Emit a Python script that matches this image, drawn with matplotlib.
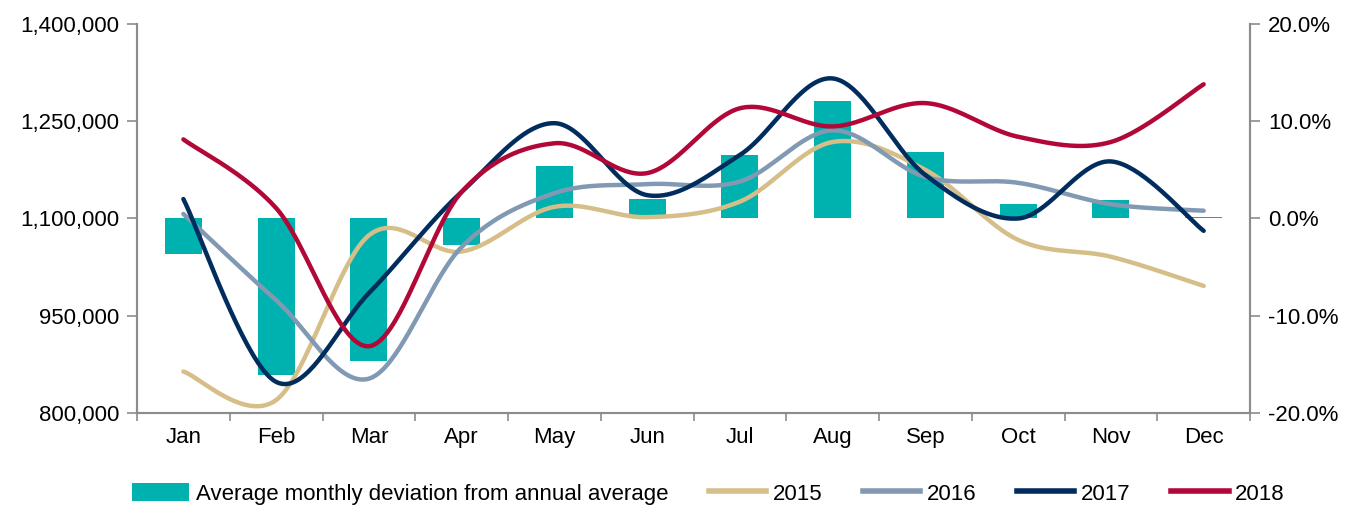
"""Monthly volumes 2015-2018 with average monthly deviation bars."""
import numpy as np
import matplotlib
matplotlib.use("Agg")
from matplotlib import pyplot as plt
from matplotlib.patches import Patch
from matplotlib.lines import Line2D
from matplotlib.ticker import FuncFormatter

months = ["Jan", "Feb", "Mar", "Apr", "May", "Jun",
          "Jul", "Aug", "Sep", "Oct", "Nov", "Dec"]

# average monthly deviation from annual average (right axis, %)
deviation = [-3.7, -16.1, -14.7, -2.7, 5.4, 2.0, 6.5, 12.1, 6.8, 1.5, 1.9, 0.2]

y2015 = [864000, 820000, 1074000, 1049000, 1118000, 1102000,
         1126000, 1218000, 1175000, 1067000, 1041000, 996000]
y2016 = [1107000, 974000, 853000, 1056000, 1139000, 1153000,
         1157000, 1236000, 1164000, 1155000, 1122000, 1112000]
y2017 = [1130000, 848000, 985000, 1141000, 1247000, 1136000,
         1198000, 1316000, 1167000, 1100000, 1188000, 1081000]
y2018 = [1222000, 1116000, 903000, 1141000, 1216000, 1170000,
         1270000, 1242000, 1278000, 1226000, 1218000, 1307000]

series = [("2015", y2015, "#D6BE88"),
          ("2016", y2016, "#8199B3"),
          ("2017", y2017, "#012D5E"),
          ("2018", y2018, "#B20838")]

TEAL = "#00B2AF"
AXIS = "#8C8C8C"

plt.rcParams["font.family"] = ["Liberation Sans Narrow", "Liberation Sans", "DejaVu Sans"]
plt.rcParams["font.size"] = 16


def smooth(x, y, n=40):
    """Excel-like smoothed line: Catmull-Rom segments as cubic Beziers."""
    p = np.column_stack([x, y]).astype(float)
    pts = [p[0]]
    for i in range(len(p) - 1):
        p0 = p[i - 1] if i > 0 else p[i]
        p1, p2 = p[i], p[i + 1]
        p3 = p[i + 2] if i + 2 < len(p) else p[i + 1]
        c1 = p1 + (p2 - p0) / 6.0
        c2 = p2 - (p3 - p1) / 6.0
        t = np.linspace(0, 1, n)[1:, None]
        seg = ((1 - t) ** 3 * p1 + 3 * (1 - t) ** 2 * t * c1
               + 3 * (1 - t) * t ** 2 * c2 + t ** 3 * p2)
        pts.extend(seg)
    pts = np.array(pts)
    return pts[:, 0], pts[:, 1]


fig = plt.figure(figsize=(13.62, 5.08), dpi=100)
ax = fig.add_axes((0.1006, 0.187, 0.8172, 0.7658))
ax2 = ax.twinx()

x = np.arange(len(months))

# bars on the right axis, behind the lines
ax2.bar(x, deviation, width=0.4, color=TEAL, zorder=1)
ax2.set_ylim(-20, 20)
ax2.set_yticks([-20, -10, 0, 10, 20])
ax2.yaxis.set_major_formatter(FuncFormatter(lambda v, _: f"{v:.1f}%"))

ax.set_zorder(ax2.get_zorder() + 1)
ax.patch.set_visible(False)
for name, vals, col in series:
    sx, sy = smooth(x, vals)
    ax.plot(sx, sy, color=col, lw=3.2, solid_capstyle="round")

ax.set_ylim(800000, 1400000)
ax.set_yticks(np.arange(800000, 1400001, 150000))
ax.yaxis.set_major_formatter(FuncFormatter(lambda v, _: f"{v:,.0f}"))
ax.set_xlim(-0.5, 11.5)
ax.set_xticks(x)
ax.set_xticklabels(months)
ax.set_xticks(np.arange(-0.5, 12, 1), minor=True)
ax.tick_params(axis="x", which="major", length=0, pad=10)
ax.tick_params(axis="x", which="minor", length=6, color=AXIS, width=1.2)
ax.tick_params(axis="y", length=7, color=AXIS, width=1.2, pad=6)
ax2.tick_params(axis="y", length=7, color=AXIS, width=1.2, pad=6)

for a in (ax, ax2):
    a.spines["top"].set_visible(False)
    for s in ("left", "right", "bottom"):
        a.spines[s].set_color(AXIS)
        a.spines[s].set_linewidth(1.5)

handles = [Patch(facecolor=TEAL, label="Average monthly deviation from annual average")]
handles += [Line2D([], [], color=c, lw=4, label=n) for n, _, c in series]
fig.legend(handles=handles, loc="center", bbox_to_anchor=(0.52, 0.028), ncol=5,
           frameon=False, handlelength=2.6, handleheight=0.9, handletextpad=0.3,
           columnspacing=1.8, borderaxespad=0)

fig.savefig("out.png", dpi=100)
